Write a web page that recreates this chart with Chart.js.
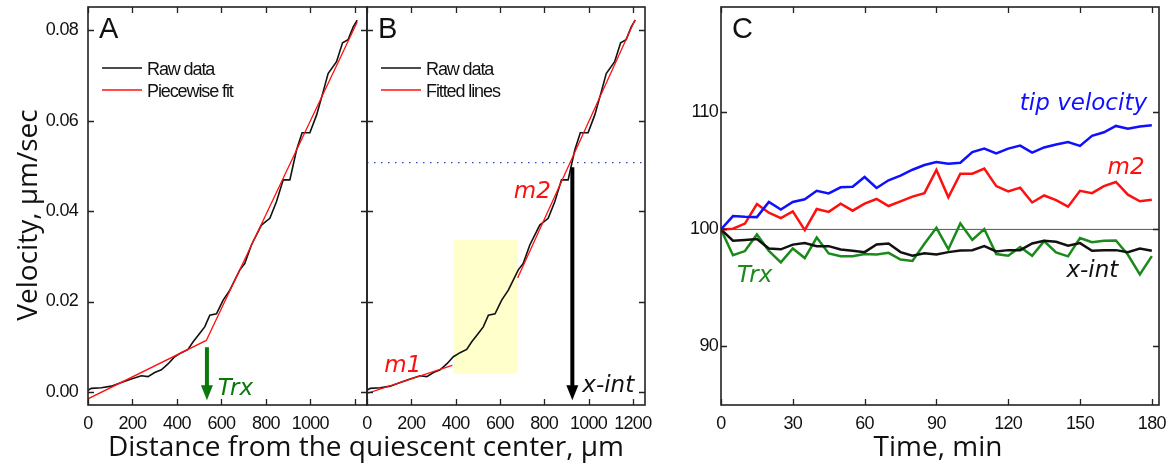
<!DOCTYPE html>
<html>
<head>
<meta charset="utf-8">
<script src="https://cdn.jsdelivr.net/npm/chart.js@4.4.1/dist/chart.umd.min.js"></script>
<style>
  body { margin: 0; background: #fff; width: 1166px; height: 472px; overflow: hidden; position: relative; }
  canvas { position: absolute; top: 0; }
  #xTitleAB { position: absolute; left: 0; width: 732px; top: 431px; text-align: center;
              font: 28px "Open Sans", sans-serif; line-height: 28px; color: #111; white-space: nowrap; }
</style>
</head>
<body>
<canvas id="chartA" width="368" height="472" style="left:0px"></canvas>
<canvas id="chartB" width="300" height="472" style="left:360px"></canvas>
<canvas id="chartC" width="516" height="472" style="left:650px"></canvas>
<div id="xTitleAB">Distance from the quiescent center, µm</div>
<script>
// ---- panel A / B data (velocity profile) ----
var distUm = [0, 15, 60, 105, 150, 195, 240, 270, 300, 330, 360, 390, 420, 450, 473, 503, 525, 548, 578, 608,
              638, 683, 705, 735, 780, 818, 848, 878, 908, 938, 963, 998, 1028, 1058, 1080, 1118, 1145, 1170, 1193, 1211];
var rawVelocity = [0.0004, 0.0008, 0.00095, 0.0013, 0.0021, 0.0029, 0.0036, 0.0034, 0.0043, 0.0049, 0.0062, 0.0078,
                   0.0087, 0.0094, 0.0111, 0.0130, 0.0144, 0.0170, 0.0173, 0.0203, 0.0225, 0.0270, 0.0284, 0.0325,
                   0.0369, 0.0384, 0.0421, 0.0469, 0.0469, 0.0535, 0.0573, 0.0573, 0.0612, 0.0664, 0.0704, 0.0730,
                   0.0772, 0.0779, 0.0807, 0.0822];
var fitX = [0, 532, 1211];
var fitY = [-0.0015, 0.0114, 0.0818];
var m1X = [0, 385];
var m1Y = [-0.0003, 0.0059];
var m2X = [680, 1210];
var m2Y = [0.0252, 0.0823];
var tipLevel = 0.0507;
var trxArrow = { x: 535, top: 0.0099, tip: -0.0018 };
var xintArrow = { x: 927, top: 0.0497, tip: -0.0018 };
var shadeBox = { x0: 391, x1: 680, y0: 0.0040, y1: 0.0336 };
var legendA = ['Raw data', 'Piecewise fit'];
var legendB = ['Raw data', 'Fitted lines'];
var distTicks = [0, 200, 400, 600, 800, 1000, 1200];
var velTicks = [0, 0.02, 0.04, 0.06, 0.08];

// ---- panel C data (percent of mean over time) ----
var timeMin = [0, 5, 10, 15, 20, 25, 30, 35, 40, 45, 50, 55, 60, 65, 70, 75, 80, 85, 90, 95, 100, 105, 110, 115, 120,
               125, 130, 135, 140, 145, 150, 155, 160, 165, 170, 175, 180];
var tipVel = [100, 101.14, 101.08, 101.05, 102.34, 101.7, 102.34, 102.57, 103.3, 103.08, 103.6, 103.65, 104.48, 103.54,
              104.2, 104.6, 105.1, 105.5, 105.76, 105.6, 105.7, 106.6, 106.9, 106.5, 106.9, 107.16, 106.56, 107.0,
              107.25, 107.47, 107.13, 108.0, 108.3, 108.84, 108.6, 108.8, 108.9];
var m2Pct = [100, 100.06, 100.5, 102.17, 101.43, 100.97, 101.54, 99.94, 101.74, 101.5, 102.2, 101.6, 102.2, 102.6,
             102.0, 102.4, 102.8, 103.1, 105.08, 102.74, 104.76, 104.76, 105.2, 103.7, 103.25, 103.57, 102.3, 102.9,
             102.5, 101.94, 103.3, 103.1, 103.7, 104.05, 102.97, 102.4, 102.54];
var trxPct = [100, 97.8, 98.15, 99.57, 98.17, 97.18, 98.37, 97.55, 99.3, 97.95, 97.7, 97.7, 97.9, 97.86, 98.0, 97.43,
              97.3, 98.77, 100.14, 98.3, 100.5, 99.1, 100.03, 97.9, 97.75, 98.5, 97.75, 99.0, 98.03, 97.7, 99.26, 98.9,
              99.03, 99.06, 97.83, 96.15, 97.72];
var xintPct = [100, 99.03, 99.1, 99.17, 98.37, 98.3, 98.7, 98.83, 98.57, 98.57, 98.29, 98.17, 98.06, 98.72, 98.8,
               98.06, 97.75, 97.97, 97.86, 98.06, 98.2, 98.23, 98.57, 98.12, 98.23, 98.23, 98.8, 99.03, 98.94, 98.6,
               98.83, 98.17, 98.23, 98.23, 98.06, 98.37, 98.17];
var timeTicks = [0, 30, 60, 90, 120, 150, 180];
var pctTicks = [90, 100, 110];

var tickFont = { family: '"Liberation Sans", Arial, sans-serif', size: 18 };
var titleFamily = '"Open Sans", sans-serif';
var noteFont = 'italic 23px "DejaVu Sans", sans-serif';

function pts(xs, ys) {
  return xs.map(function (x, i) { return { x: x, y: ys[i] }; });
}

function drawArrow(ctx, x, yTop, yTip, color) {
  ctx.save();
  ctx.strokeStyle = color;
  ctx.fillStyle = color;
  ctx.lineWidth = 4;
  ctx.beginPath();
  ctx.moveTo(x, yTop);
  ctx.lineTo(x, yTip - 14);
  ctx.stroke();
  ctx.beginPath();
  ctx.moveTo(x - 6, yTip - 15);
  ctx.lineTo(x + 6, yTip - 15);
  ctx.lineTo(x, yTip);
  ctx.closePath();
  ctx.fill();
  ctx.restore();
}

function label(ctx, text, x, y, color, font, align, spacing) {
  ctx.save();
  ctx.letterSpacing = spacing || '0px';
  ctx.fillStyle = color;
  ctx.font = font;
  ctx.textAlign = align || 'left';
  ctx.textBaseline = 'alphabetic';
  ctx.fillText(text, x, y);
  ctx.restore();
}

// frame with inward ticks on all four sides, panel letter, optional legend and y title
function framePlugin(opts) {
  return {
    id: 'frame' + opts.letter,
    beforeDraw: function (chart) {
      chart.ctx.letterSpacing = '-0.7px';   // condensed look of the tick labels
    },
    beforeDatasetsDraw: function (chart) {
      if (opts.before) opts.before(chart);
    },
    afterDatasetsDraw: function (chart) {
      var ctx = chart.ctx, a = chart.chartArea, sx = chart.scales.x, sy = chart.scales.y;
      ctx.save();
      ctx.strokeStyle = '#222';
      ctx.lineWidth = 1.3;
      ctx.beginPath();
      opts.xTicks.forEach(function (v) {
        var p = Math.round(sx.getPixelForValue(v)) + 0.5;
        ctx.moveTo(p, a.bottom); ctx.lineTo(p, a.bottom - 6);
        ctx.moveTo(p, a.top); ctx.lineTo(p, a.top + 6);
      });
      opts.yTicks.forEach(function (v) {
        var p = Math.round(sy.getPixelForValue(v)) + 0.5;
        ctx.moveTo(a.left, p); ctx.lineTo(a.left + 6, p);
        ctx.moveTo(a.right, p); ctx.lineTo(a.right - 6, p);
      });
      ctx.stroke();
      ctx.lineWidth = 1.6;
      ctx.strokeRect(a.left, a.top, a.right - a.left, a.bottom - a.top);
      ctx.restore();

      label(ctx, opts.letter, a.left + 11, a.top + 31, '#111', '29px "Liberation Sans", Arial, sans-serif');

      if (opts.legend) {
        var colors = ['#111', '#ff1010'];
        opts.legend.forEach(function (t, i) {
          var y = a.top + 61 + i * 22;
          ctx.save();
          ctx.strokeStyle = colors[i];
          ctx.lineWidth = 1.5;
          ctx.beginPath();
          ctx.moveTo(a.left + 14, y); ctx.lineTo(a.left + 54, y);
          ctx.stroke();
          ctx.restore();
          label(ctx, t, a.left + 59, y + 7, '#111', '18px ' + tickFont.family, 'left', '-1.1px');
        });
      }
      if (opts.yTitle) {
        ctx.save();
        ctx.letterSpacing = '0px';
        ctx.fillStyle = '#111';
        ctx.font = '28px ' + titleFamily;
        ctx.textAlign = 'center';
        ctx.textBaseline = 'alphabetic';
        ctx.translate(opts.yTitle.x, opts.yTitle.y);
        ctx.rotate(-Math.PI / 2);
        ctx.fillText(opts.yTitle.text, 0, 0);
        ctx.restore();
      }
      if (opts.after) opts.after(chart);
    },
    afterDraw: function (chart) {
      chart.ctx.letterSpacing = '0px';
    }
  };
}

function axes(xmin, xmax, ymin, ymax, xTicks, yTicks, xFmt, yFmt, yWidth, yShow, yPad) {
  return {
    x: {
      type: 'linear', min: xmin, max: xmax,
      grid: { display: false, drawTicks: false }, border: { display: false },
      afterBuildTicks: function (s) { s.ticks = xTicks.map(function (v) { return { value: v }; }); },
      afterFit: function (s) { s.height = 67; s.paddingLeft = 0; s.paddingRight = 0; },
      ticks: { font: tickFont, color: '#111', padding: 8, maxRotation: 0, autoSkip: false, callback: xFmt }
    },
    y: {
      type: 'linear', min: ymin, max: ymax, display: yShow,
      grid: { display: false, drawTicks: false }, border: { display: false },
      afterBuildTicks: function (s) { s.ticks = yTicks.map(function (v) { return { value: v }; }); },
      afterFit: function (s) { s.width = yWidth; s.paddingTop = 0; s.paddingBottom = 0; },
      ticks: { font: tickFont, color: '#111', padding: yPad, autoSkip: false, callback: yFmt }
    }
  };
}

var baseOpts = {
  responsive: false, animation: false, events: [],
  plugins: { legend: { display: false }, tooltip: { enabled: false } },
  elements: { point: { radius: 0 }, line: { tension: 0 } }
};

function opts(extra) {
  return Object.assign({}, baseOpts, extra);
}

// ---- panel A ----
new Chart(document.getElementById('chartA'), {
  type: 'line',
  data: {
    datasets: [
      { data: pts(fitX, fitY), borderColor: '#ff1010', borderWidth: 1.3 },
      { data: pts(distUm, rawVelocity), borderColor: '#111', borderWidth: 1.6 }
    ]
  },
  options: opts({
    layout: { padding: { top: 7, right: 1, left: 0, bottom: 0 } },
    scales: axes(0, 1255, -0.00287, 0.0851, distTicks, velTicks,
      function (v) { return v === 1200 ? '' : v; },
      function (v) { return v.toFixed(2); }, 88, true, 10)
  }),
  plugins: [framePlugin({
    letter: 'A', xTicks: distTicks, yTicks: velTicks, legend: legendA,
    yTitle: { text: 'Velocity, µm/sec', x: 37, y: 215 },
    after: function (chart) {
      var sx = chart.scales.x, sy = chart.scales.y, ctx = chart.ctx;
      drawArrow(ctx, sx.getPixelForValue(trxArrow.x), sy.getPixelForValue(trxArrow.top),
                sy.getPixelForValue(trxArrow.tip), '#0a780a');
      label(ctx, 'Trx', sx.getPixelForValue(584), sy.getPixelForValue(-0.0007), '#0a780a', noteFont);
    }
  })]
});

// ---- panel B ----
new Chart(document.getElementById('chartB'), {
  type: 'line',
  data: {
    datasets: [
      { data: pts(m1X, m1Y), borderColor: '#ff1010', borderWidth: 1.3 },
      { data: pts(m2X, m2Y), borderColor: '#ff1010', borderWidth: 1.3 },
      { data: pts(distUm, rawVelocity), borderColor: '#111', borderWidth: 1.6 },
      { data: pts([0, 1255], [tipLevel, tipLevel]), borderColor: '#3344bb', borderWidth: 1.3, borderDash: [1.5, 5.5] }
    ]
  },
  options: opts({
    layout: { padding: { top: 7, right: 15, left: 7, bottom: 0 } },
    scales: axes(0, 1255, -0.00287, 0.0851, distTicks, velTicks,
      function (v) { return v; }, function () { return ''; }, 0, false, 0)
  }),
  plugins: [framePlugin({
    letter: 'B', xTicks: distTicks, yTicks: velTicks, legend: legendB,
    before: function (chart) {
      var sx = chart.scales.x, sy = chart.scales.y, ctx = chart.ctx;
      var x0 = sx.getPixelForValue(shadeBox.x0), x1 = sx.getPixelForValue(shadeBox.x1);
      var y0 = sy.getPixelForValue(shadeBox.y0), y1 = sy.getPixelForValue(shadeBox.y1);
      ctx.save();
      ctx.fillStyle = '#ffffcc';
      ctx.fillRect(x0, y1, x1 - x0, y0 - y1);
      ctx.restore();
    },
    after: function (chart) {
      var sx = chart.scales.x, sy = chart.scales.y, ctx = chart.ctx;
      drawArrow(ctx, sx.getPixelForValue(xintArrow.x), sy.getPixelForValue(xintArrow.top),
                sy.getPixelForValue(xintArrow.tip), '#000');
      label(ctx, 'x-int', sx.getPixelForValue(972), sy.getPixelForValue(0.0), '#111', noteFont);
      label(ctx, 'm1', sx.getPixelForValue(78), sy.getPixelForValue(0.0044), '#ff1010', noteFont);
      label(ctx, 'm2', sx.getPixelForValue(663), sy.getPixelForValue(0.0429), '#ff1010', noteFont);
    }
  })]
});

// ---- panel C ----
new Chart(document.getElementById('chartC'), {
  type: 'line',
  data: {
    datasets: [
      { data: pts(timeMin, tipVel), borderColor: '#1010ff', borderWidth: 2.5 },
      { data: pts(timeMin, m2Pct), borderColor: '#ff1010', borderWidth: 2.5 },
      { data: pts(timeMin, xintPct), borderColor: '#111', borderWidth: 2.5 },
      { data: pts(timeMin, trxPct), borderColor: '#1a8a1a', borderWidth: 2.5 },
      { data: pts([0, 183], [100, 100]), borderColor: '#555', borderWidth: 1 }
    ]
  },
  options: opts({
    layout: { padding: { top: 7, right: 7, left: 0, bottom: 0 } },
    scales: axes(0, 183, 85, 119, timeTicks, pctTicks,
      function (v) { return v; }, function (v) { return v; }, 71, true, 3)
  }),
  plugins: [framePlugin({
    letter: 'C', xTicks: timeTicks, yTicks: pctTicks,
    yTitle: { text: 'Percent of mean', x: 682, y: 197 },
    after: function (chart) {
      var sx = chart.scales.x, sy = chart.scales.y, ctx = chart.ctx, a = chart.chartArea;
      label(ctx, 'tip velocity', sx.getPixelForValue(178), sy.getPixelForValue(110.2), '#1010ff', noteFont, 'right');
      label(ctx, 'm2', sx.getPixelForValue(177), sy.getPixelForValue(104.73), '#ff1010', noteFont, 'right');
      label(ctx, 'x-int', sx.getPixelForValue(166), sy.getPixelForValue(95.95), '#111', noteFont, 'right');
      label(ctx, 'Trx', sx.getPixelForValue(6.7), sy.getPixelForValue(95.52), '#1a8a1a', noteFont, 'left');
      label(ctx, 'Time, min', (a.left + a.right) / 2 - 2, 456, '#111', '28px ' + titleFamily, 'center');
    }
  })]
});
</script>
</body>
</html>
